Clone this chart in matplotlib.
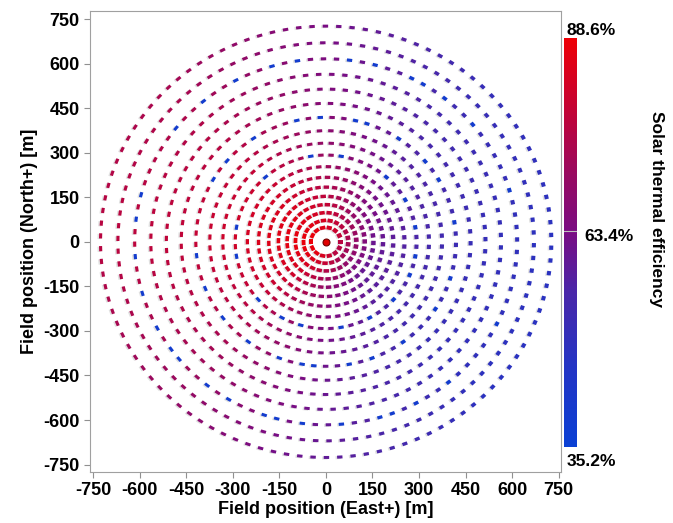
import numpy as np
import matplotlib
matplotlib.use("Agg")
import matplotlib.pyplot as plt
from matplotlib.collections import PolyCollection
from matplotlib.colors import LinearSegmentedColormap, Normalize
from matplotlib.cm import ScalarMappable

plt.rcParams["font.family"] = ["Liberation Sans", "DejaVu Sans"]
plt.rcParams["font.weight"] = "bold"
plt.rcParams["axes.unicode_minus"] = False

# --- field layout: ring radius [m] and spacing along the ring [m] ---
ring_radii = [48, 72, 98, 125, 153, 184, 217, 253, 292, 332, 374, 419, 466, 514, 564, 616, 670, 726]
ring_spacing = [21, 22, 23, 24, 25, 27, 29, 31, 33, 35, 37, 38, 40, 41, 42, 42, 43, 43]

# --- efficiency (%) read at sample points: rows = radius, cols = azimuth (deg, ccw from East) ---
grid_r = [50, 150, 300, 450, 600, 750]
grid_az = [0, 45, 90, 135, 180, 225, 270, 315]
grid_eff = [
    # E   NE   N   NW   W   SW   S   SE
    [77, 80, 84, 87, 88, 87, 82, 76],
    [61, 66, 78, 84, 86, 82, 69, 60],
    [55, 59, 70, 80, 82, 77, 63, 55],
    [51, 55, 66, 77, 79, 74, 61, 51],
    [49, 52, 64, 75, 78, 72, 60, 49],
    [47, 50, 63, 74, 77, 70, 59, 47],
]

# heliostats that show up blue (low efficiency), approx. positions [m]
blue_x = [-271, -389, -467, -314, -375, -580, -600, -293, -177, -73, 67, 174, -105, -3, 104, 138,
          230, -234, -55, 50, -210, 204, 270, 302, 388, 463, 313, 372, 579, 265, 415, 286,
          -603, -580, -539, -461, -384, -298, -421, -293, -400, -330, -257, -482, -218, -134,
          -68, -260, -162, -62, -30, 59, 61, 160, 211, 249, -205, -169, -65, 61, 166, 200,
          128, 292, 397, 350, 533, 377, 292, 383, 286]
blue_y = [549, 469, 394, 291, 205, 172, 71, 64, 587, 610, 609, 587, 416, 430, 418, 407,
          358, 360, 296, 296, 214, 217, 549, 532, 470, 392, 291, 203, 172, 130, 68, 63,
          -38, -178, -279, -394, -474, -534, -40, -46, -142, -268, -341, -369, -203, -268,
          -291, -343, -394, -425, -428, -293, -425, -394, -203, -343, -575, -588, -608, -608, -588, -577,
          -265, -44, -139, -238, -279, -474, -532, -472, -122]
blue_eff = 39.0

EFF_MIN, EFF_MID, EFF_MAX = 35.2, 63.4, 88.6

# heliostat positions, ring by ring (staggered)
xs, ys = [], []
for i, (r, sp) in enumerate(zip(ring_radii, ring_spacing)):
    n = int(round(2 * np.pi * r / sp))
    step = 2 * np.pi / n
    ang = np.arange(n) * step + (i % 2) * step / 2 + i * 0.035
    xs.extend(r * np.cos(ang))
    ys.extend(r * np.sin(ang))
xs = np.array(xs)
ys = np.array(ys)
rr = np.hypot(xs, ys)
az = np.rad2deg(np.arctan2(ys, xs)) % 360

# efficiency per heliostat from the read grid
g = np.array(grid_eff, dtype=float)
az_ext = np.array(grid_az + [360])
rows = np.array([np.interp(az, az_ext, np.append(row, row[0])) for row in g])
eff = np.array([np.interp(rr[k], grid_r, rows[:, k]) for k in range(len(rr))])
for bx, by in zip(blue_x, blue_y):
    k = np.argmin((xs - bx) ** 2 + (ys - by) ** 2)
    eff[k] = blue_eff

cmap = LinearSegmentedColormap.from_list(
    "eff", [(0.0, "#0a40d4"), (0.2, "#2434c4"), (0.38, "#4a26a8"), (0.528, "#7a0c82"),
            (0.66, "#960a62"), (0.8, "#bc043c"), (1.0, "#ee0006")])
norm = Normalize(EFF_MIN, EFF_MAX)

# rectangles: long side tangential, squarer on the east side and near the tower
c = np.cos(np.deg2rad(az))
s = np.sin(np.deg2rad(az))
east = np.clip(c, 0, None)
near = np.clip(1 - rr / 300, 0, None)
w = 17.5 - 3 * east
h = 10 + 3 * east + 3 * near
tx, ty = -s, c
ux, uy = c, s
polys = []
for k in range(len(xs)):
    a, b = w[k] / 2, h[k] / 2
    polys.append([
        (xs[k] + a * tx[k] + b * ux[k], ys[k] + a * ty[k] + b * uy[k]),
        (xs[k] - a * tx[k] + b * ux[k], ys[k] - a * ty[k] + b * uy[k]),
        (xs[k] - a * tx[k] - b * ux[k], ys[k] - a * ty[k] - b * uy[k]),
        (xs[k] + a * tx[k] - b * ux[k], ys[k] + a * ty[k] - b * uy[k]),
    ])
shadows = [[(px - 5, py - 2) for px, py in p] for p in polys]

fig = plt.figure(figsize=(6.73, 5.23), dpi=100)
ax = fig.add_axes([0.1337, 0.0975, 0.6998, 0.8815])

ax.add_collection(PolyCollection(shadows, facecolors="#e0e0e0", edgecolors="none"))
ax.add_collection(PolyCollection(polys, facecolors=cmap(norm(eff)), edgecolors="none"))
ax.plot(0, 0, "o", ms=5, mfc="#e00000", mec="#700000", mew=0.8)

ax.set_xlim(-760, 757)
ax.set_ylim(-775, 777)
ticks = np.arange(-750, 751, 150)
ax.set_xticks(ticks)
ax.set_yticks(ticks)
ax.tick_params(labelsize=13, length=4, color="#909090")
for sp in ax.spines.values():
    sp.set_color("#a0a0a0")
ax.set_xlabel("Field position (East+) [m]", fontsize=13, fontweight="bold", labelpad=1)
ax.set_ylabel("Field position (North+) [m]", fontsize=13, fontweight="bold", labelpad=4)

cax = fig.add_axes([0.838, 0.1453, 0.0193, 0.782])
cb = fig.colorbar(ScalarMappable(norm=norm, cmap=cmap), cax=cax)
cb.outline.set_visible(False)
cb.set_ticks([])
cax.axhline(EFF_MID, color="#c0c0c0", lw=0.8)
fig.text(0.842, 0.942, f"{EFF_MAX}%", fontsize=12.5, fontweight="bold", va="center", ha="left")
fig.text(0.842, 0.117, f"{EFF_MIN}%", fontsize=12.5, fontweight="bold", va="center", ha="left")
fig.text(0.868, 0.547, f"{EFF_MID}%", fontsize=12.5, fontweight="bold", va="center", ha="left")
fig.text(0.975, 0.6, "Solar thermal efficiency", rotation=270, fontsize=12.5, fontweight="bold",
         va="center", ha="center")

fig.savefig("out.png", dpi=100)
